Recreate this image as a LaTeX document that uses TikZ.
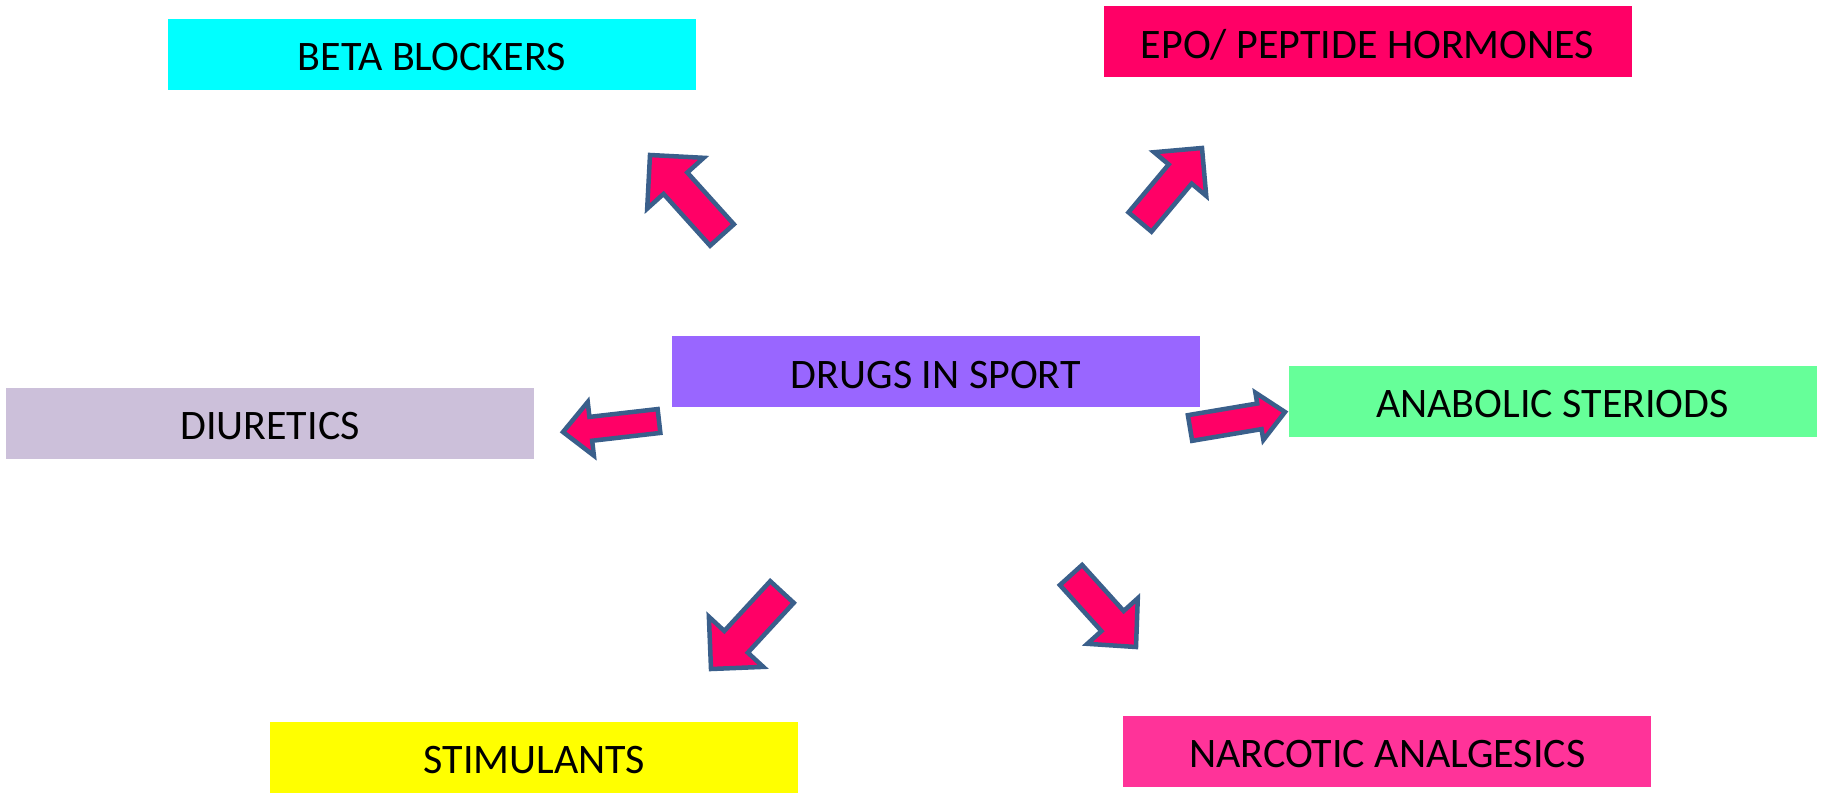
\documentclass[tikz,border=0pt]{standalone}
\usepackage{fontspec}
\setmainfont{Carlito}
\usetikzlibrary{calc}

\definecolor{betacol}{HTML}{00FFFF}
\definecolor{epocol}{HTML}{FF0066}
\definecolor{drugcol}{HTML}{9966FF}
\definecolor{diurcol}{HTML}{CCC0DA}
\definecolor{anacol}{HTML}{66FF99}
\definecolor{stimcol}{HTML}{FFFF00}
\definecolor{narccol}{HTML}{FF3399}
\definecolor{arrowfill}{HTML}{FF0066}
\definecolor{arrowline}{HTML}{3A5F8B}

\tikzset{
  box/.style={rectangle, inner sep=0pt, minimum width=528pt, minimum height=71pt,
    text height=33pt, text depth=0pt, font=\fontsize{42}{50}\selectfont},
  fatarrow/.style={fill=arrowfill, draw=arrowline, line width=4.5pt, line join=miter}
}

% block arrow: tail, tip, half shaft width, half head width, head length (pt)
\newcommand\blockarrow[5]{%
  \coordinate (ba-h) at ($(#2)!#5pt!(#1)$);
  \draw[fatarrow] ($(#1)!#3pt!90:(#2)$) -- ($(ba-h)!#3pt!90:(#2)$)
    -- ($(ba-h)!#4pt!90:(#2)$) -- (#2) -- ($(ba-h)!#4pt!-90:(#2)$)
    -- ($(ba-h)!#3pt!-90:(#2)$) -- ($(#1)!#3pt!-90:(#2)$) -- cycle;
}

\begin{document}
\begin{tikzpicture}[x=1pt, y=-1pt]
\useasboundingbox (0,0) rectangle (1825,794);

% category boxes
\node[box, fill=betacol]  (beta) at (431.8,54.1)  {BETA BLOCKERS};
\node[box, fill=epocol]   (epo)  at (1367.5,42)   {EPO/ PEPTIDE HORMONES};
\node[box, fill=drugcol]  (drug) at (935.8,371.5) {DRUGS IN SPORT};
\node[box, fill=diurcol]  (diur) at (270,423)     {DIURETICS};
\node[box, fill=anacol]   (ana)  at (1552.5,401)  {ANABOLIC STERIODS};
\node[box, fill=stimcol]  (stim) at (534.3,757)   {STIMULANTS};
\node[box, fill=narccol]  (narc) at (1387.3,751.3) {NARCOTIC ANALGESICS};

% arrow tails and tips
\coordinate (t1) at (722,235);  \coordinate (p1) at (650,155);
\coordinate (t2) at (1140,222); \coordinate (p2) at (1202,148);
\coordinate (t3) at (659,421);  \coordinate (p3) at (563,432);
\coordinate (t4) at (1190,428); \coordinate (p4) at (1285,412);
\coordinate (t5) at (782,592);  \coordinate (p5) at (711,669);
\coordinate (t6) at (1071,575); \coordinate (p6) at (1136,647);

\blockarrow{t1}{p1}{16}{38}{38}
\blockarrow{t2}{p2}{15}{34}{34}
\blockarrow{t3}{p3}{12}{27}{28}
\blockarrow{t4}{p4}{13}{24}{26}
\blockarrow{t5}{p5}{16}{37}{37}
\blockarrow{t6}{p6}{15}{34}{35}
\end{tikzpicture}
\end{document}
